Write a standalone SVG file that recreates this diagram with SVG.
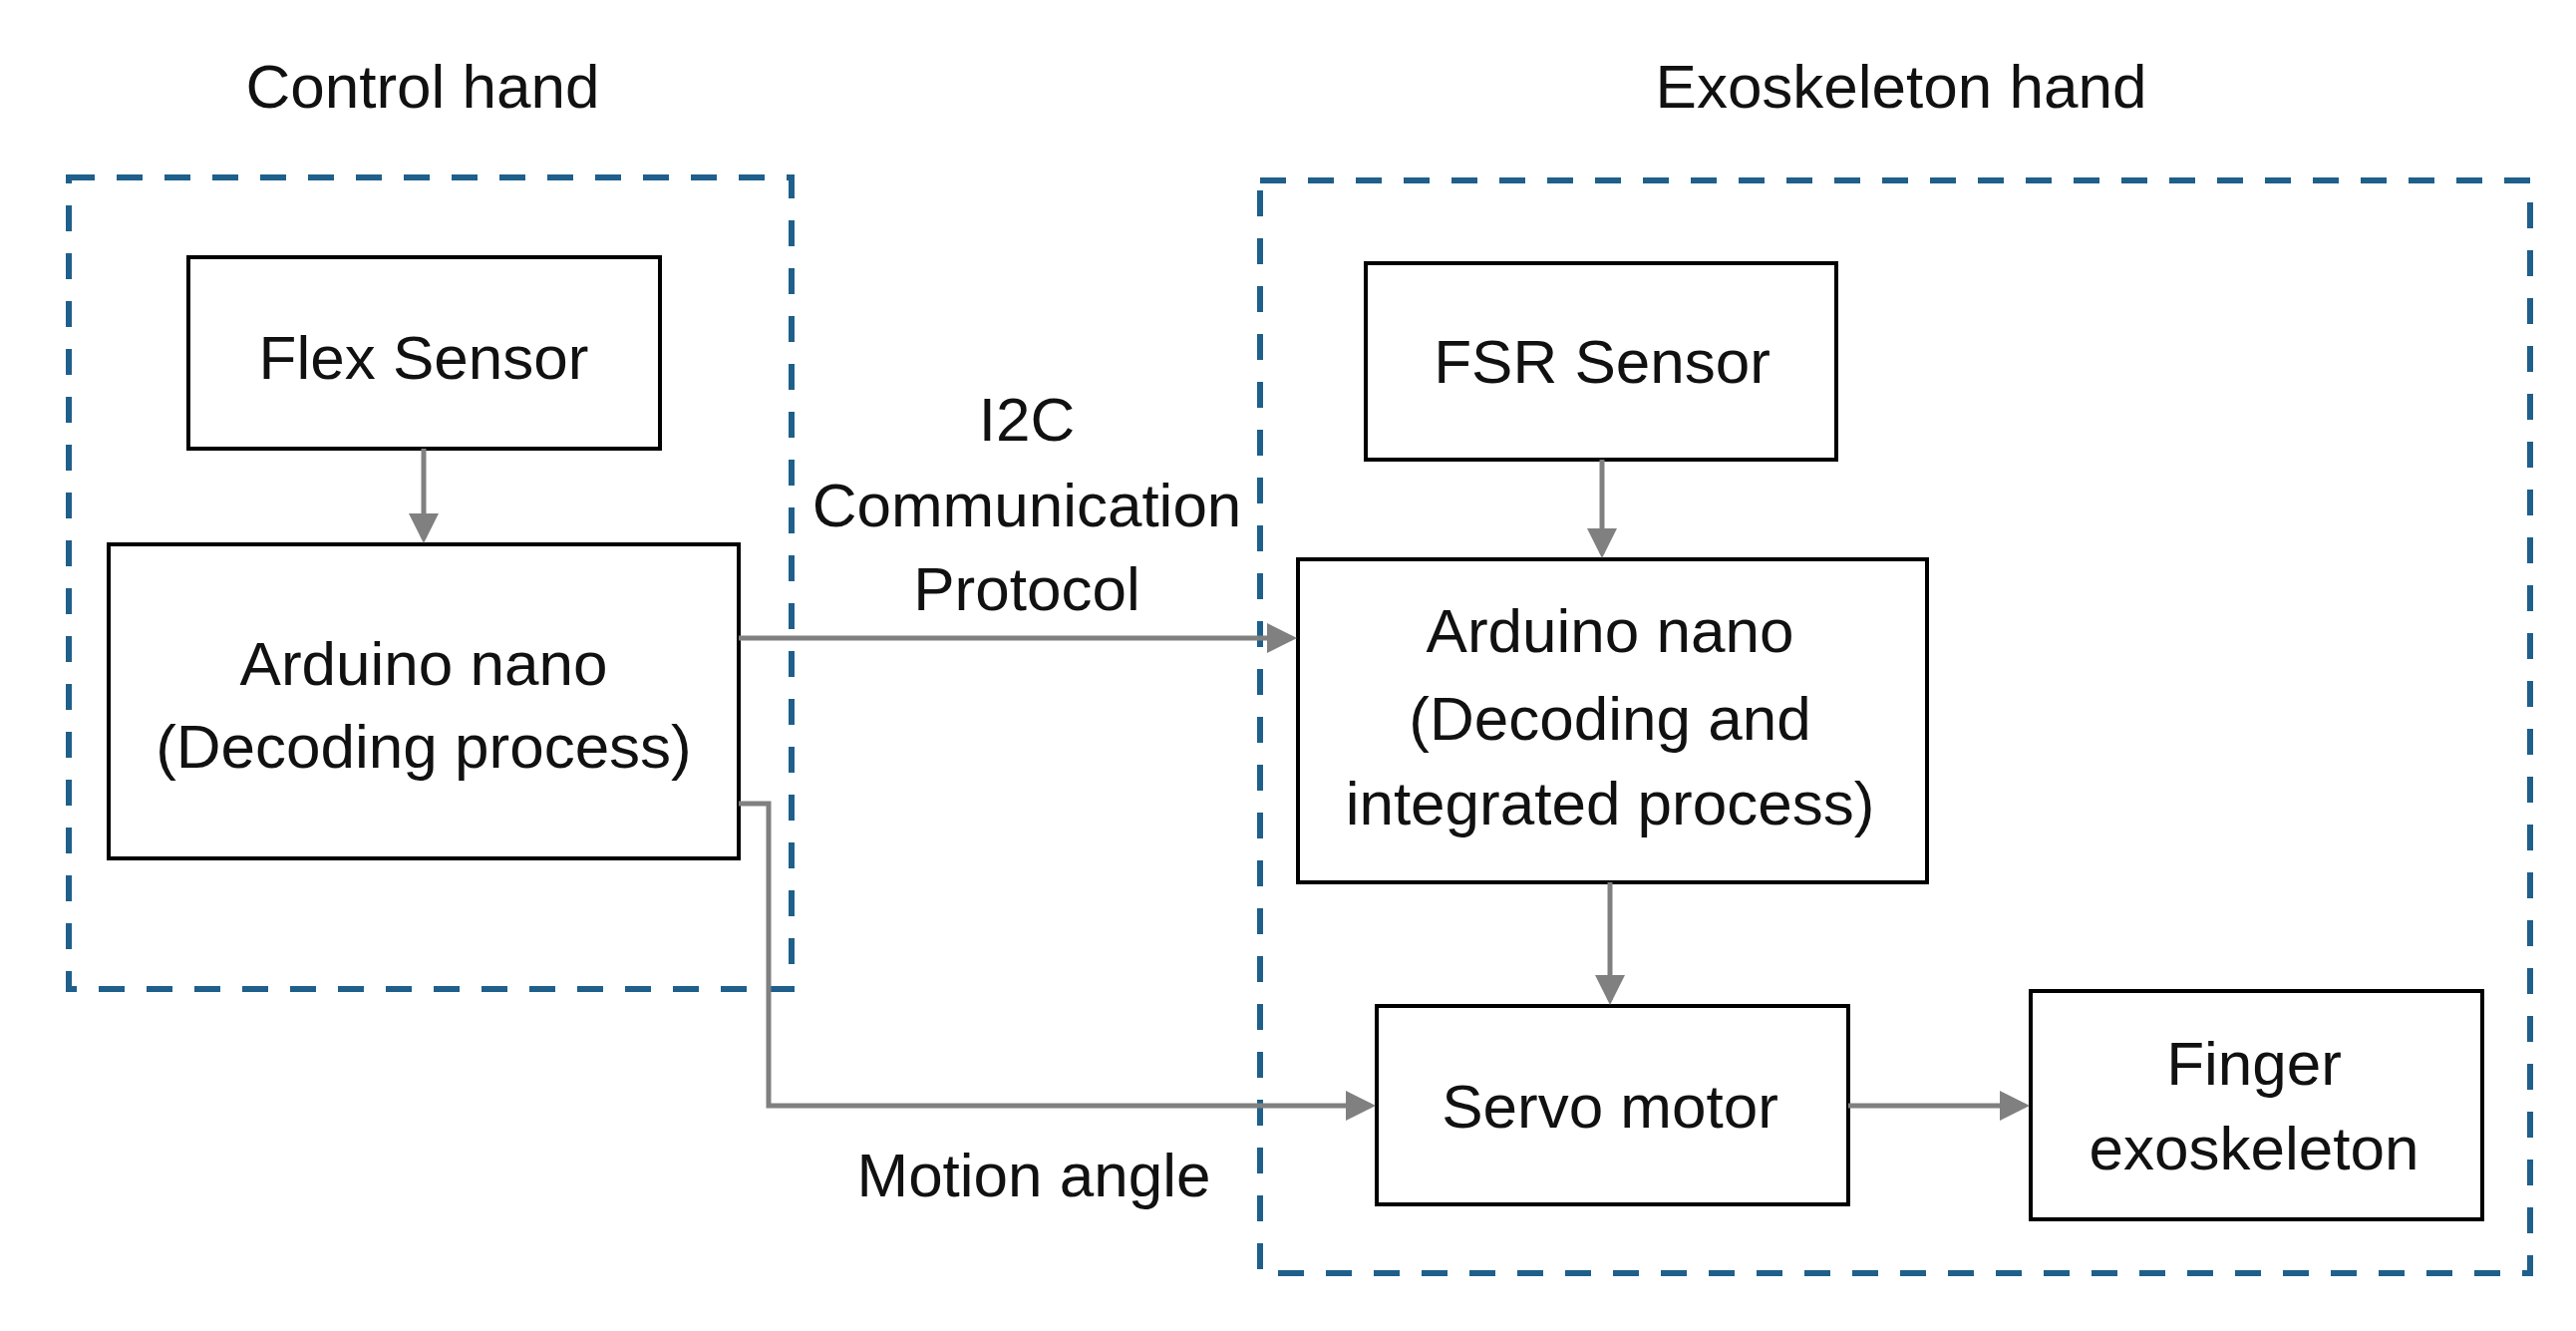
<svg xmlns="http://www.w3.org/2000/svg" width="2584" height="1335" viewBox="0 0 2584 1335">
<style>
.t{font-family:"Liberation Sans",Arial,sans-serif;font-size:62px;fill:#111;text-anchor:middle}
.box{fill:#fff;stroke:#000;stroke-width:4}
.grp{fill:none;stroke:#1f5f8b;stroke-width:6;stroke-dasharray:26 22}
.c{fill:none;stroke:#808080;stroke-width:5}
</style>
<defs>
<marker id="a" markerWidth="6" markerHeight="6" refX="5" refY="3" orient="auto" markerUnits="strokeWidth"><path d="M0,0L6,3L0,6z" fill="#808080"/></marker>
</defs>
<rect width="2584" height="1335" fill="#fff"/>
<g id="control-hand"><rect class="grp" x="69" y="178" width="725" height="814"/><text class="t" x="424" y="108">Control hand</text></g>
<g id="exoskeleton-hand"><rect class="grp" x="1264" y="181" width="1274" height="1096"/><text class="t" x="1907" y="108">Exoskeleton hand</text></g>
<g id="flex"><rect class="box" x="189" y="258" width="473" height="192"/><text class="t" x="425" y="380">Flex Sensor</text></g>
<g id="arduino-left"><rect class="box" x="109" y="546" width="632" height="315"/><text class="t" x="425" y="687">Arduino nano</text><text class="t" x="425" y="770">(Decoding process)</text></g>
<g id="fsr"><rect class="box" x="1370" y="264" width="472" height="197"/><text class="t" x="1607" y="384">FSR Sensor</text></g>
<g id="arduino-right"><rect class="box" x="1302" y="561" width="631" height="324"/><text class="t" x="1615" y="654">Arduino nano</text><text class="t" x="1615" y="742">(Decoding and</text><text class="t" x="1615" y="827">integrated process)</text></g>
<g id="servo"><rect class="box" x="1381" y="1009" width="473" height="199"/><text class="t" x="1615" y="1131">Servo motor</text></g>
<g id="finger"><rect class="box" x="2037" y="994" width="453" height="229"/><text class="t" x="2261" y="1088">Finger</text><text class="t" x="2261" y="1173">exoskeleton</text></g>
<g id="connectors">
<line class="c" x1="425" y1="450" x2="425" y2="540" marker-end="url(#a)"/>
<line class="c" x1="741" y1="640" x2="1296" y2="640" marker-end="url(#a)"/>
<polyline class="c" points="741,806 771,806 771,1109 1375,1109" marker-end="url(#a)"/>
<line class="c" x1="1607" y1="461" x2="1607" y2="555" marker-end="url(#a)"/>
<line class="c" x1="1615" y1="885" x2="1615" y2="1003" marker-end="url(#a)"/>
<line class="c" x1="1854" y1="1109" x2="2031" y2="1109" stroke-width="7" marker-end="url(#a)"/>
<text class="t" x="1030" y="442">I2C</text>
<text class="t" x="1030" y="528">Communication</text>
<text class="t" x="1030" y="612">Protocol</text>
<text class="t" x="1037" y="1200">Motion angle</text>
</g>
</svg>
